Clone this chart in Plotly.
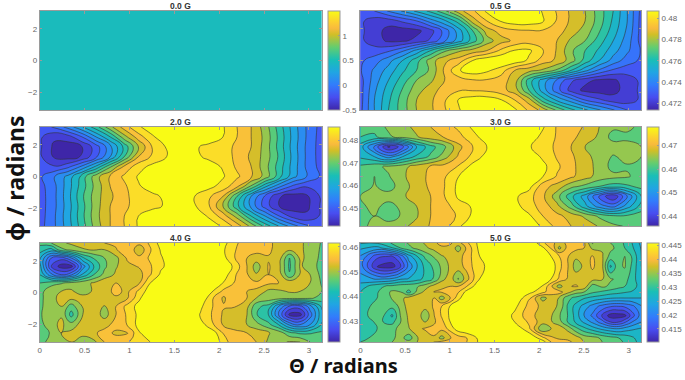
import numpy as np
import plotly.graph_objects as go

PANEL_TITLES = ["0.0 G", "0.5 G", "2.0 G", "3.0 G", "4.0 G", "5.0 G"]
X_TICKS = [0, 0.5, 1, 1.5, 2, 2.5, 3]
Y_TICKS = [-2, 0, 2]
CB_RANGES = [(-0.5, 1.5), (0.47138, 0.48066), (0.4419, 0.4861),
             (0.4356, 0.478), (0.4217, 0.4616), (0.4103, 0.4458)]
CB_TICKS = [[-0.5, 0, 0.5, 1],
            [0.472, 0.474, 0.476, 0.478, 0.48],
            [0.45, 0.46, 0.47, 0.48],
            [0.44, 0.45, 0.46, 0.47],
            [0.43, 0.44, 0.45, 0.46],
            [0.415, 0.42, 0.425, 0.43, 0.435, 0.44, 0.445]]
CB_LABELS = [["-0.5", "0", "0.5", "1"],
             ["0.472", "0.474", "0.476", "0.478", "0.48"],
             ["0.45", "0.46", "0.47", "0.48"],
             ["0.44", "0.45", "0.46", "0.47"],
             ["0.43", "0.44", "0.45", "0.46"],
             ["0.415", "0.42", "0.425", "0.43", "0.435", "0.44", "0.445"]]

Z_00G_VALUE = [[0.48, 0.48], [0.48, 0.48]]

# Sample positions where the denser panels were read
THETA_40G = [0, .129, .24, .351, .48, .602, .721, .85, .979, 1.109, 1.22, 1.349, 1.571, 1.793, 1.94, 2.051,
             2.162, 2.31, 2.413, 2.55, 2.661, 2.783, 2.901, 3.012, 3.1416]
PHI_40G = [3.1416, 2.718, 2.19, 1.661, 1.132, .603, .074, -.349, -.878, -1.407, -2.042, -2.57, -3.1416]
THETA_50G = [0, .188, .355, .451, .54, .636, .724, .82, .909, 1.005, 1.094, 1.19, 1.301, 1.412, 1.571, 1.726,
             1.892, 2.04, 2.133, 2.225, 2.317, 2.41, 2.502, 2.595, 2.705, 2.798, 2.89, 2.957, 3.038, 3.1416]
PHI_50G = [3.1416, 2.824, 2.295, 1.661, .857, .391, .032, -.349, -.878, -1.47, -1.872, -2.295, -2.888, -3.1416]

B_05G = [
 [2.5,3,4.1,5.1,6.2,7.3,8.8,10.6,11.8,13.2,13.8,14,13.8,12.9,11.9,10.8,10,8.5,7,5,2.7],
 [2.2,1.5,1.5,2.2,3,4.5,5.8,7.5,10.5,12,13.1,13.6,13.6,13.1,11.9,10.8,10,8.5,6.8,5,2.6],
 [2.2,1.5,0.6,0.5,0.7,1.6,3.4,5.5,8,10.5,11.4,11.8,11.9,11.9,11.5,10.5,9.6,8.1,6.5,4.8,2.6],
 [2.2,1.5,0.8,0.8,1.3,2.2,3.8,5.5,7.5,9.5,10.6,11.2,11.5,11.4,11,9.8,9,7.5,6,4.5,2.6],
 [2.6,2.4,2.8,3.8,5.3,7,8.8,9.8,10.4,11,12.2,13.1,13.2,12.1,10.9,9.2,8,6.8,5.4,4.2,2.9],
 [2.8,3.5,4.6,6,7.6,9.5,10.8,11.5,13,13.8,14,13.7,12.8,11.5,10.8,9.5,7.6,6,4.6,3.5,2.8],
 [2.9,4.2,5.4,6.8,8,9.2,11.2,12.9,13.6,13.2,12.5,11,10.4,9.8,8.8,7,5.3,3.8,2.8,2.4,2.6],
 [2.6,4.5,6,7.5,9,9.8,11,11.5,11.9,11.9,11.5,10.5,7.5,5.5,3.8,2.2,1.3,0.8,0.8,1.5,2.2],
 [2.6,4.8,6.5,8.1,9.6,10.5,11.5,11.9,11.9,11.8,11.4,10.5,8,5.5,3.4,1.6,0.7,0.5,0.6,1.5,2.2],
 [2.6,5,6.8,8.5,10,10.8,11.9,13.1,13.6,13.6,13.1,12,10.5,7.5,5.8,4.5,3,2.2,1.5,1.5,2.2],
 [2.7,5,7,8.5,10,10.8,11.9,12.9,13.8,14,13.8,13.2,11.8,10.6,8.8,7.3,6.2,5.1,4.1,3,2.5],
]
B_20G = [
 [2.5,3.1,4.4,5.9,7.6,9.7,11.5,12.9,13.4,14,14,14,14,13.1,12,11,9.5,7.5,5.5,3.8,2.6],
 [2.2,1.2,1.5,3,5,7,9.6,11.5,12.9,13.5,14,14,13.9,13,12,11,9.7,7.7,5.6,3.8,2.5],
 [2.2,0.8,0.5,1,2.5,4.7,7.3,10,12.1,13.1,13.9,13.2,12.6,12.2,11.9,11,9.6,7.6,5.5,3.7,2.5],
 [2.2,0.9,0.5,1.1,2.8,5,8,11,12.2,13,13.5,13.2,12.8,12.4,11.8,10.8,9.6,7.8,5.6,3.7,2.5],
 [2.2,2.1,2.7,4.2,6.2,8.8,11.2,12.6,13.3,13.7,14,13.9,13.4,12.9,11.8,11,9.4,7.5,5.5,3.7,2.6],
 [2.8,3.9,5.3,7.4,9.6,11.1,12.2,13.1,13.8,14,14,14,13.8,13.1,12.2,11.1,9.6,7.4,5.3,3.9,2.8],
 [2.6,3.7,5.5,7.5,9.4,11,11.8,12.9,13.4,13.9,14,13.7,13.3,12.6,11.2,8.8,6.2,4.2,2.7,2.1,2.2],
 [2.5,3.7,5.6,7.8,9.6,10.8,11.8,12.4,12.8,13.2,13.5,13,12.2,11,8,5,2.8,1.1,0.5,0.9,2.2],
 [2.5,3.7,5.5,7.6,9.6,11,11.9,12.2,12.6,13.2,13.9,13.1,12.1,10,7.3,4.7,2.5,1,0.5,0.8,2.2],
 [2.5,3.8,5.6,7.7,9.7,11,12,13,13.9,14,14,13.5,12.9,11.5,9.6,7,5,3,1.5,1.2,2.2],
 [2.6,3.8,5.5,7.5,9.5,11,12,13.1,14,14,14,14,13.4,12.9,11.5,9.7,7.6,5.9,4.4,3.1,2.5],
]
B_30G = [
 [8.2,8.4,9.2,9.6,10.3,11,11.6,12.2,13.2,14,14,14,14,13.1,11.9,11.4,10.9,10,9.2,9.2,8.8],
 [8,7.8,8.8,9.4,9.9,10.6,11.1,11.7,12.6,13.6,14,14,13.6,12.7,11.9,11.2,10.7,9.8,8.6,8.8,9],
 [6.5,3.7,0.8,2.5,6,7.6,8.8,10.7,12,13,14,14,13.1,12.5,11.8,11,10,9.7,9.5,9.3,9],
 [6.8,6,4.5,6,7.2,8.2,9.6,11.2,12.3,13.4,14,14,13.7,12.8,11.9,11.2,10.3,9.6,8.9,9.3,9],
 [8.2,8.7,9.2,9.6,10.5,11.1,11.4,12.1,13.4,14,14,14,13.9,13.3,12.2,11.3,10.4,9.7,8.6,8.9,8.9],
 [8.4,9,8.9,9.8,10.6,11.2,11.9,13,14,14,14,14,14,13,11.9,11.2,10.4,9.6,9.3,9.1,8.6],
 [8.4,9.1,8.5,9.6,10.4,11.2,12,13.3,14,14,14,14,13.4,11.4,10.6,9.3,8.7,8,7.5,7.8,8.3],
 [9,9.3,9.5,9.8,10.6,11,12,13.2,13.8,14,14,13.2,12.4,11.2,9.4,7.3,5.5,2.8,1,4,7],
 [8.8,9.3,8.6,9.3,10,11,11.6,12.6,13.1,14,14,13.4,12.4,11.6,10.3,8.5,6.3,4.5,3.6,5.5,7.4],
 [8.7,9,8.3,9.2,9.9,11,11.3,12.2,13.2,14,14,14,13.2,12,11.3,10.6,9.8,8.8,8.2,8.2,8.5],
 [8.8,9.2,9.6,9.8,10.3,11.1,11.6,12.8,14,14,14,14,14,12.7,11.7,11,10.6,9.9,9.2,8.9,8.6],
]
B_40G = [
 [8.3,9,9.8,10.2,10.4,10.7,11,11.2,11.6,11.3,12.1,13.4,14,14,14,13.4,12.2,11.6,11.4,11.2,10.7,10.3,10.1,9.8,8.9],
 [7.5,6.6,8.7,9.3,9.9,10.1,10,10.9,12,10.2,11.8,13.1,14,14,14,13.1,12.1,11.5,11.4,11.2,10.6,10.2,10.1,9.8,8.8],
 [6.2,3,2.4,4,6.8,8.1,9,9.7,11.2,11.3,12.1,12.9,14,14,14,13.3,12.1,11,10.5,10.9,10.6,8,10.2,9.7,8.7],
 [6.4,2,0.5,0.6,4.5,7,8.8,9.9,10.7,11.1,11.8,12.8,14,14,14,14,12.8,11,9.5,11.1,10.4,7.8,10.1,9.7,8.5],
 [7,4.2,3,3.8,6.2,8,9.3,10.2,10.7,10.6,11.8,13.2,14,14,14,13.6,12.2,11.1,10.1,11,10.7,8.1,10.1,10,8.7],
 [8,8.6,8.9,9.3,9.7,10.1,10.8,11,10.9,10.9,12.9,14,14,14,13.8,12.9,12,11.2,11.2,11.2,11,10.8,10.4,10,8.9],
 [8.6,9.7,10,10.2,9.3,10.2,10.7,11.2,10.8,12.3,13.5,14,14,14,12.9,11.7,11.5,11,10.9,9.7,9.8,10.1,10,9.7,9],
 [8.6,9.9,10.1,10.3,10.6,11,10.8,10.9,10.9,12.8,14,14,14,14,11.9,10.8,12,11,10,9.6,9.5,9.4,9.4,9.2,8.6],
 [8.7,9.8,10,8.5,10.1,10.7,9.9,11,12.4,13.4,14,14,14,13.2,11.9,11.1,11.1,10.3,8.3,7.6,5,2.8,2.6,4.5,7.2],
 [8.8,9.9,9.9,7.6,10,10.8,9.5,11,12.2,13.3,14,14,14,12.9,11.8,10.8,10.6,10,8.1,6.9,4,0.7,0.6,3.5,6.7],
 [8.6,9.7,10.2,9.4,10.5,10.9,10.8,11.2,12.1,13.4,14,14,14,13.5,12,10.8,10.7,10,9.4,8.3,7,4.8,4,5,7.1],
 [8.5,9.1,10,10.3,10.4,10.9,11.2,10.9,10.9,12.9,13.6,14,14,14,13.4,11.9,11.2,11,10.6,10.1,9.6,8.3,7.8,7.9,8.2],
 [8.8,9.2,9.7,10,9.3,9.7,11,11.3,11.9,12.6,12.9,14,14,14,13.9,12.4,11.5,11.2,11,9.8,9.7,10.1,10,9,8.7],
]
B_50G = [
 [7.1,7.1,8.1,8.6,9.1,9.6,10.1,10.8,11.3,11.1,10.6,11.8,13,14,14,14,14,12.2,11.3,10.6,11.2,11.5,11.2,8.9,9.9,9,8.3,7.9,7,5.7],
 [6.2,5.6,6.9,8,8.7,9.3,9.8,10.3,10.8,10.8,9.5,11.2,12.9,14,14,14,14,13.2,11.9,9.7,11.3,11.3,11,9.8,9.9,9.3,8.6,8,7.2,5.9],
 [4.9,2.3,1.9,3.3,5.5,7,8.2,9.1,9.9,10.3,10.6,11.4,12.7,13.7,14,14,14,14,13,12,11.1,10.2,10.4,11.1,10.1,8.6,8.7,9,7.9,6],
 [4.5,0.9,0.5,2,4.3,6,7.3,8.2,9.2,10.2,10.6,11.3,12.6,13.1,14,14,14,14,13.7,12.3,11.1,9.5,10.2,11.2,10.2,6.8,8.8,9.1,7.8,6],
 [5.4,4.9,5.2,5.9,6.1,6.6,7.3,8.1,9.6,10.6,8.9,10.6,12.6,14,14,14,14,13.8,13,11.8,10.9,10.6,10.4,10.4,10.1,9.1,8.8,8.4,7.5,6.2],
 [6.5,7.7,8.3,8.6,8.7,8.9,9.5,10.4,10.9,11,11,12,13.5,14,14,14,13.9,12.9,11.2,9.5,10.9,11.1,10.7,8.5,9.2,8.8,8.3,8,7.5,6.5],
 [7,7.9,9.2,9,7.6,9.3,10.3,11,11.1,11.3,11.9,13.4,14,14,14,14,13.3,12.3,11.4,11.4,10.4,9.4,9,8.2,7.8,7.5,7.3,7.1,6.9,6.7],
 [7.2,8,9.1,9.7,10.4,11,11,11,9.5,11,12.6,14,14,14,14,14,12.1,9.6,10.5,9.9,8.3,7.7,7.1,6.7,6.4,6.1,6,6,6,6],
 [7.3,8.5,8.3,9.3,10.5,10.7,10.4,11.1,12,13.1,14,14,14,14,14,13.3,11.6,10.7,10.4,9.8,7.9,6.6,5.6,4.6,3.6,3.1,3,3.2,3.7,4.9],
 [7.2,9,6.8,9.1,10.2,10.7,9.2,10.9,12.1,13.2,14,14,14,14,14,12.7,11.4,10.4,10.1,9.1,8,6.6,4.9,3.8,1.9,0.5,0.5,0.7,2.5,4.5],
 [7.2,8.2,7.7,9,10.1,10.8,10,10.8,11.7,13,14,14,14,14,13.9,13,11.8,10.4,10.1,9.4,8,6.8,5.8,4.8,3.4,2,2,2.8,4,5],
 [7.3,8,8.6,9.4,9.9,10.8,11.1,11.3,11.3,12.4,13.6,14,14,14,14,14,12.1,9,10,10.6,9.7,8.3,7.3,6.5,5.7,5.2,5,5.4,5.8,6.1],
 [7.8,8.2,8.8,9.4,8.4,9.9,10.5,10.9,9.6,10.9,11.5,12,13,14,14,14,14,12.3,11.2,10.8,10.9,10.5,9.6,9.4,8.8,8.4,8,7.7,7.2,6.4],
 [8,8.4,9,9.4,9.4,10,10.6,11,11.3,11.4,11.7,12,12.9,14,14,14,14,13.5,12,11.5,11.1,10.9,10,9.5,9,8.6,8.2,7.9,7.4,6.6],
]
BANDS = [None, B_05G, B_20G, B_30G, B_40G, B_50G]
GRIDS = [None, None, None, None, (THETA_40G, PHI_40G), (THETA_50G, PHI_50G)]
for b, g in zip(BANDS[1:], GRIDS[1:]):
    assert len({len(r) for r in b}) == 1, [len(r) for r in b]
    if g:
        assert len(g[0]) == len(b[0]) and len(g[1]) == len(b)

PARULA = [[0, "rgb(62,38,168)"], [0.127, "rgb(72,77,240)"], [0.254, "rgb(50,124,252)"],
          [0.381, "rgb(32,165,227)"], [0.508, "rgb(25,191,182)"], [0.635, "rgb(100,205,111)"],
          [0.762, "rgb(209,191,39)"], [0.825, "rgb(248,186,61)"], [0.889, "rgb(252,207,48)"],
          [1, "rgb(249,251,21)"]]

W, H = 685, 380
COL_X = [(38, 322), (361, 644)]
ROW_Y = [(11, 110), (127, 226), (243, 342)]
CB_X = [328, 650]
TITLE_Y = [6, 122, 238]
FRAME = "#9a9a9a"
TXT = "#666666"
FONT = "Liberation Sans"

fig = go.Figure()
layout = {}
for i, title in enumerate(PANEL_TITLES):
    r, c = i // 2, i % 2
    x0, x1 = COL_X[c]
    y0, y1 = ROW_Y[r]
    n = i + 1
    xn, yn = ("x", "y") if n == 1 else (f"x{n}", f"y{n}")
    zlo, zhi = CB_RANGES[i]
    if BANDS[i] is None:
        fig.add_trace(go.Heatmap(z=Z_00G_VALUE, x=[0, np.pi], y=[-np.pi, np.pi], zmin=zlo, zmax=zhi,
                                 colorscale=PARULA, showscale=False, xaxis=xn, yaxis=yn))
    else:
        step = (zhi - zlo) / 14
        arr = np.array(BANDS[i], dtype=float)
        z = zlo + step * arr
        if GRIDS[i]:
            xs, ys = np.array(GRIDS[i][0]), np.array(GRIDS[i][1])
        else:
            xs = np.linspace(0, np.pi, arr.shape[1])
            ys = np.linspace(np.pi, -np.pi, arr.shape[0])
        fig.add_trace(go.Contour(z=z[::-1], x=xs, y=ys[::-1], colorscale=PARULA, showscale=False,
                                 autocontour=False,
                                 contours=dict(start=zlo + step, end=zlo + 13 * step, size=step,
                                               coloring="fill", showlines=True),
                                 line=dict(color="#333333", width=0.6, smoothing=1.3),
                                 xaxis=xn, yaxis=yn))
    # colour bar
    fig.add_trace(go.Scatter(x=[None], y=[None], mode="markers", xaxis=xn, yaxis=yn, showlegend=False,
                             marker=dict(color=[zlo, zhi], cmin=zlo, cmax=zhi, colorscale=PARULA, showscale=True,
                                         colorbar=dict(x=CB_X[c] / W, xanchor="left", xpad=0, ypad=0,
                                                       y=1 - (y0 + y1) / 2 / H, yanchor="middle",
                                                       len=y1 - y0, lenmode="pixels",
                                                       thickness=11.5, thicknessmode="pixels",
                                                       tickvals=CB_TICKS[i], ticktext=CB_LABELS[i],
                                                       ticks="inside", ticklen=2, tickcolor=FRAME,
                                                       tickfont=dict(size=8, color=TXT, family=FONT),
                                                       outlinecolor=FRAME, outlinewidth=1))))
    common = dict(showgrid=False, zeroline=False, ticks="inside", ticklen=2.5, tickcolor=FRAME,
                  showline=True, linecolor=FRAME, linewidth=1, mirror="allticks",
                  tickfont=dict(size=8, color=TXT, family=FONT))
    layout["xaxis" + ("" if n == 1 else str(n))] = dict(domain=[x0 / W, x1 / W], range=[0, np.pi],
                                                        tickvals=X_TICKS, showticklabels=(r == 2),
                                                        anchor=yn, ticktext=[str(t) for t in X_TICKS], **common)
    layout["yaxis" + ("" if n == 1 else str(n))] = dict(domain=[1 - y1 / H, 1 - y0 / H], range=[-np.pi, np.pi],
                                                        tickvals=Y_TICKS, showticklabels=(c == 0),
                                                        anchor=xn, **common)

ann = []
for i, title in enumerate(PANEL_TITLES):
    r, c = i // 2, i % 2
    ann.append(dict(text=f"<b>{title}</b>", x=(COL_X[c][0] + COL_X[c][1]) / 2 / W, y=1 - TITLE_Y[r] / H,
                    xref="paper", yref="paper", showarrow=False, xanchor="center", yanchor="middle",
                    font=dict(size=8.5, color="#333333", family=FONT)))
ann.append(dict(text="<b>Θ / radians</b>", x=344 / W, y=1 - 365 / H, xref="paper", yref="paper", showarrow=False,
                xanchor="center", yanchor="middle", font=dict(size=20, color="#111111", family="Noto Sans")))
ann.append(dict(text="<b>ϕ / radians</b>", x=13 / W, y=1 - 178 / H, xref="paper", yref="paper", showarrow=False,
                xanchor="center", yanchor="middle", textangle=-90,
                font=dict(size=23, color="#111111", family="Noto Sans")))

fig.update_layout(width=W, height=H, margin=dict(l=0, r=0, t=0, b=0), autosize=False,
                  paper_bgcolor="white", plot_bgcolor="white", showlegend=False, annotations=ann, **layout)
fig.write_html("out.html", config={"displayModeBar": False},
               post_script="document.body.style.margin='0';document.documentElement.style.overflow='hidden';")
